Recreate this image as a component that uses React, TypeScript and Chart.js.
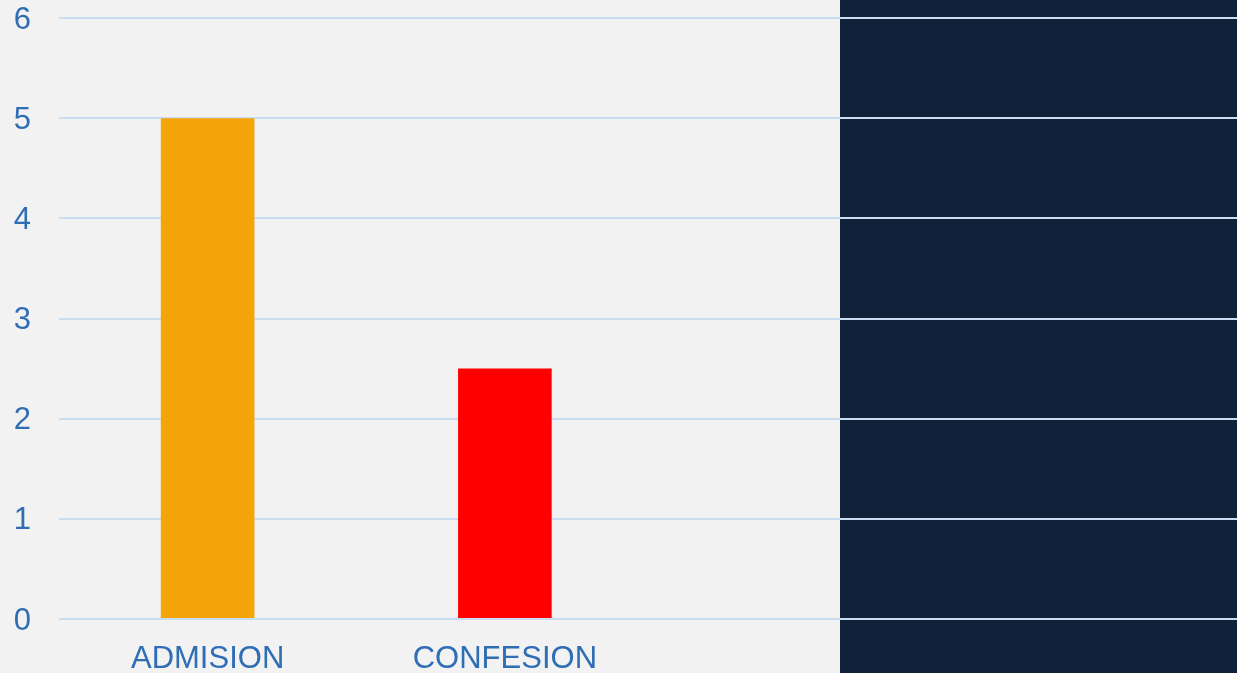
import React, { useEffect, useRef } from "react";
import { Chart, registerables } from "chart.js";

Chart.register(...registerables);

const categories: string[] = ["ADMISION", "CONFESION", "", ""];
const values: (number | null)[] = [5, 2.5, null, null];
const barColors: string[] = ["#f4a50a", "#ff0000", "#f4a50a", "#ff0000"];
const yTicks: number[] = [0, 1, 2, 3, 4, 5, 6];

export default function App() {
  const canvasRef = useRef<HTMLCanvasElement | null>(null);

  useEffect(() => {
    document.body.style.margin = "0";
    const canvas = canvasRef.current;
    if (!canvas) return;
    const chart = new Chart(canvas, {
      type: "bar",
      data: {
        labels: categories,
        datasets: [
          {
            data: values,
            backgroundColor: barColors,
            borderWidth: 0,
            categoryPercentage: 1,
            barPercentage: 0.315,
          },
        ],
      },
      options: {
        animation: false,
        responsive: true,
        maintainAspectRatio: false,
        layout: { padding: 0 },
        plugins: {
          legend: { display: false },
          tooltip: { enabled: false },
          title: { display: false },
        },
        scales: {
          x: {
            grid: { display: false, drawTicks: false },
            border: { display: false },
            afterFit: (axis: any) => {
              axis.height = 54;
              axis.paddingLeft = 0;
              axis.paddingRight = 0;
              axis.paddingTop = 0;
              axis.paddingBottom = 0;
            },
            ticks: {
              color: "#2f6db5",
              font: { family: "'Liberation Sans', Arial, sans-serif", size: 31 },
              padding: 22,
              maxRotation: 0,
              autoSkip: false,
            },
          },
          y: {
            min: 0,
            max: 6,
            afterBuildTicks: (axis: any) => {
              axis.ticks = yTicks.map((v) => ({ value: v }));
            },
            afterFit: (axis: any) => {
              axis.width = 59;
              axis.paddingTop = 18;
              axis.paddingBottom = 0;
              axis.paddingLeft = 0;
              axis.paddingRight = 0;
            },
            grid: { color: "#c9dcf0", lineWidth: 2, drawTicks: false },
            border: { display: false },
            ticks: {
              color: "#2f6db5",
              font: { family: "'Liberation Sans', Arial, sans-serif", size: 31 },
              padding: 28,
              labelOffset: 2,
            },
          },
        },
      },
    });
    return () => chart.destroy();
  }, []);

  return (
    <div
      style={{
        position: "fixed",
        left: 0,
        top: 0,
        width: 1237,
        height: 673,
        overflow: "hidden",
        background: "#f2f2f2",
      }}
    >
      <div
        style={{
          position: "absolute",
          left: 840,
          top: 0,
          right: 0,
          bottom: 0,
          background: "#10223a",
        }}
      />
      <div style={{ position: "absolute", left: 0, top: 0, width: 1248, height: 673 }}>
        <canvas ref={canvasRef} />
      </div>
    </div>
  );
}
